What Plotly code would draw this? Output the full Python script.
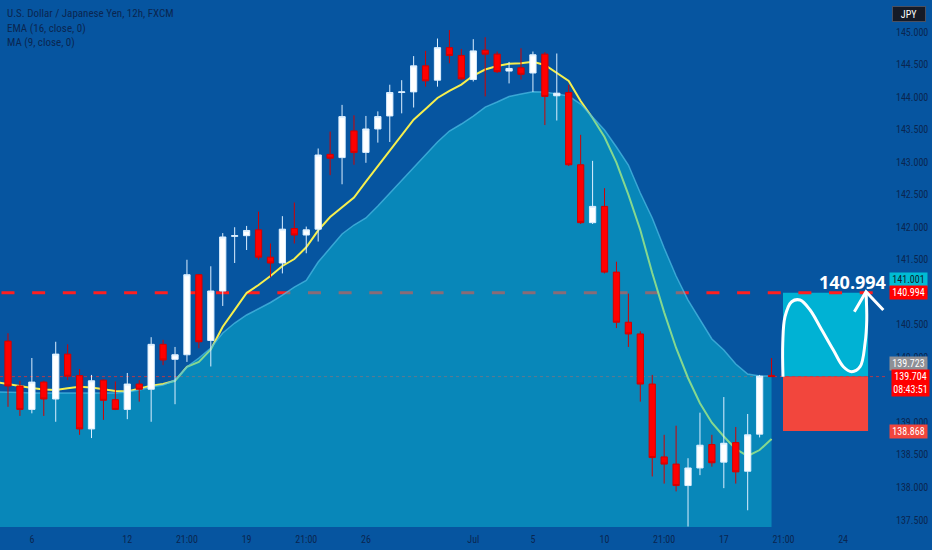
import plotly.graph_objects as go

# ---------------- data ----------------
candle_idx = list(range(65))
open_ = [140.25, 139.56, 139.20, 139.62, 139.36, 140.05, 139.72, 138.90, 139.65, 139.35,
         139.20, 139.59, 139.51, 140.20, 139.97, 140.04, 141.27, 140.26, 141.02, 141.86,
         141.87, 141.96, 141.54, 141.45, 141.98, 141.88, 141.97, 143.12, 143.07, 143.48,
         143.15, 143.51, 143.71, 144.07, 144.08, 144.48, 144.26, 144.76, 144.64, 144.27,
         144.72, 144.66, 144.40, 144.45, 144.37, 144.66, 144.02, 144.07, 142.96, 142.07,
         142.32, 141.31, 140.54, 140.36, 139.59, 138.47, 138.36, 138.03, 138.30, 138.66,
         138.39, 138.69, 138.25, 138.82, 139.723]
high = [140.37, 139.64, 139.99, 139.64, 140.24, 140.20, 139.82, 139.73, 139.66, 139.63,
        139.76, 139.65, 140.31, 140.27, 140.16, 141.50, 141.28, 141.40, 141.91, 142.00,
        142.02, 142.24, 141.75, 142.17, 142.38, 142.01, 143.21, 143.47, 143.88, 143.72,
        143.71, 143.78, 144.19, 144.26, 144.63, 144.71, 144.90, 145.03, 144.74, 144.89,
        144.92, 144.70, 144.54, 144.75, 144.70, 144.69, 144.67, 144.19, 143.42, 143.02,
        142.60, 141.47, 140.98, 140.40, 139.73, 138.81, 138.95, 138.45, 139.15, 138.81,
        139.39, 138.93, 139.13, 139.73, 139.99]
low = [139.24, 139.10, 139.14, 139.10, 139.01, 139.65, 138.81, 138.76, 139.04, 139.19,
       139.05, 139.32, 139.01, 139.88, 139.28, 139.93, 140.14, 139.86, 140.79, 141.45,
       141.65, 141.50, 141.23, 141.29, 141.75, 141.60, 141.78, 142.80, 142.66, 142.96,
       142.99, 143.30, 143.31, 143.75, 143.84, 144.16, 144.16, 144.52, 144.26, 144.24,
       144.01, 144.37, 144.21, 144.27, 144.08, 143.57, 143.64, 142.94, 142.05, 142.05,
       141.29, 140.45, 140.16, 139.32, 138.17, 138.06, 137.94, 137.40, 138.19, 138.32,
       137.99, 138.06, 137.65, 138.77, 139.70]
close = [139.56, 139.20, 139.62, 139.36, 140.05, 139.71, 138.90, 139.64, 139.34, 139.20,
         139.59, 139.51, 140.20, 139.96, 140.04, 141.27, 140.24, 141.02, 141.85, 141.87,
         141.95, 141.54, 141.45, 141.97, 141.88, 141.96, 143.11, 143.06, 143.70, 143.15,
         143.51, 143.70, 144.07, 144.08, 144.48, 144.25, 144.76, 144.64, 144.28, 144.71,
         144.66, 144.39, 144.44, 144.35, 144.65, 144.01, 144.06, 142.96, 142.07, 142.32,
         141.31, 140.54, 140.36, 139.59, 138.46, 138.36, 138.03, 138.30, 138.65, 138.38,
         138.68, 138.24, 138.81, 139.71, 139.704]

line_idx = list(range(-1, 65))
ema16 = [139.62, 139.590, 139.549, 139.529, 139.506, 139.498, 139.524, 139.549, 139.537, 139.506,
         139.483, 139.475, 139.514, 139.564, 139.590, 139.640, 139.856, 139.929, 140.121, 140.471,
         140.730, 140.989, 141.112, 141.250, 141.404, 141.511, 141.691, 141.952, 142.157, 142.311,
         142.457, 142.701, 142.936, 143.171, 143.399, 143.652, 143.817, 143.986, 144.096, 144.193,
         144.331, 144.424, 144.477, 144.511, 144.519, 144.544, 144.493, 144.370, 144.247, 143.940,
         143.678, 143.386, 142.994, 142.500, 141.957, 141.296, 140.692, 140.144, 139.683, 139.294,
         138.996, 138.784, 138.592, 138.484, 138.576, 138.745]
ma_area = [139.467, 139.467, 139.460, 139.452, 139.452, 139.452, 139.452, 139.452, 139.452, 139.452,
           139.452, 139.467, 139.498, 139.544, 139.575, 139.652, 139.856, 139.990, 140.144, 140.374,
           140.528, 140.651, 140.743, 140.843, 140.958, 141.081, 141.181, 141.465, 141.680, 141.896,
           142.034, 142.142, 142.326, 142.526, 142.726, 142.926, 143.110, 143.310, 143.479, 143.586,
           143.709, 143.847, 143.924, 144.009, 144.047, 144.083, 144.078, 144.047, 144.016, 143.893,
           143.694, 143.494, 143.233, 142.956, 142.526, 142.142, 141.680, 141.250, 140.881, 140.574,
           140.282, 140.113, 139.898, 139.744, 139.713, 139.713]

tick_pos = [2, 10, 15, 20, 25, 30, 39, 44, 50, 55, 60, 65, 70]
tick_text = ["6", "12", "21:00", "19", "21:00", "26", "Jul", "5", "10", "21:00", "17", "21:00", "24"]

target_price = 140.994
last_price = 139.704
stop_price = 138.868
alert_price = 141.001
prev_price = 139.723

box_x = [64.96, 72.09]
curve_x = [64.96, 64.94, 65.13, 65.69, 66.39, 67.23, 68.06, 69.18, 70.02, 70.72, 71.42, 71.84, 71.98, 71.92]
curve_y = [139.703, 140.22, 140.625, 140.855, 140.881, 140.728, 140.471, 140.113, 139.856, 139.78,
           139.856, 140.22, 140.574, 140.989]
arrow_x = [70.94, 71.92, 73.37]
arrow_y = [140.70, 141.009, 140.728]

X_RANGE = [-0.67, 73.51]
Y_RANGE = [137.393, 145.492]

# ---------------- styling ----------------
BG = "rgb(6,85,160)"
TXT = "#0a2650"
NARROW = "Liberation Sans Narrow, Roboto Condensed, Liberation Sans, Arial"

fig = go.Figure()

# base layer (under the translucent area)
fig.add_trace(go.Scatter(x=[X_RANGE[0], X_RANGE[1] + 2], y=[last_price, last_price], mode="lines",
                         line=dict(color="rgba(235,50,50,0.75)", width=1, dash="dot"),
                         hoverinfo="skip", xaxis="x", yaxis="y"))
fig.add_trace(go.Scatter(x=[-0.545, X_RANGE[1] + 2], y=[target_price, target_price], mode="lines",
                         line=dict(color="#ff1f1f", width=3, dash="13px,17.65px"),
                         hoverinfo="skip", xaxis="x", yaxis="y"))
fig.add_trace(go.Scatter(x=line_idx, y=ema16, mode="lines",
                         line=dict(color="#f6ef4e", width=2), hoverinfo="skip",
                         xaxis="x", yaxis="y"))
fig.add_trace(go.Scatter(x=line_idx, y=ma_area, mode="lines", fill="tozeroy",
                         fillcolor="rgba(10,190,214,0.48)",
                         line=dict(color="rgba(80,190,230,0.7)", width=1.5),
                         hoverinfo="skip", xaxis="x", yaxis="y"))

# overlay layer: candles and drawing
fig.add_trace(go.Candlestick(x=candle_idx, open=open_, high=high, low=low, close=close,
                             increasing=dict(line=dict(color="#dcefff", width=1), fillcolor="#ffffff"),
                             decreasing=dict(line=dict(color="#d40000", width=1), fillcolor="#ff0000"),
                             whiskerwidth=0, xaxis="x2", yaxis="y2", hoverinfo="skip"))
fig.add_trace(go.Scatter(x=curve_x, y=curve_y, mode="lines",
                         line=dict(color="white", width=3, shape="spline", smoothing=1.0),
                         hoverinfo="skip", xaxis="x2", yaxis="y2"))
fig.add_trace(go.Scatter(x=arrow_x, y=arrow_y, mode="lines",
                         line=dict(color="white", width=3),
                         hoverinfo="skip", xaxis="x2", yaxis="y2"))

shapes = [
    dict(type="rect", xref="x", yref="y", x0=box_x[0], x1=box_x[1], y0=last_price, y1=target_price,
         fillcolor="#00b2d4", line=dict(width=0), layer="below"),
    dict(type="rect", xref="x", yref="y", x0=box_x[0], x1=box_x[1], y0=stop_price, y1=last_price,
         fillcolor="#f2463d", line=dict(width=0), layer="below"),
]

def badge(price, text, bg, fg, yshift=0, height=13, xshift=4):
    return dict(xref="paper", x=1, xanchor="left", xshift=xshift, yref="y", y=price,
                yanchor="middle", yshift=yshift, text=text, showarrow=False, bgcolor=bg,
                font=dict(color=fg, size=10, family=NARROW), width=37, height=height,
                borderpad=0, align="center")

annotations = [
    dict(xref="paper", x=0, xanchor="left", xshift=5, yref="paper", y=1, yanchor="middle", yshift=-13,
         text="U.S. Dollar / Japanese Yen, 12h, FXCM", showarrow=False,
         font=dict(color=TXT, size=11, family=NARROW)),
    dict(xref="paper", x=0, xanchor="left", xshift=5, yref="paper", y=1, yanchor="middle", yshift=-28,
         text="EMA (16, close, 0)", showarrow=False, font=dict(color=TXT, size=11, family=NARROW)),
    dict(xref="paper", x=0, xanchor="left", xshift=5, yref="paper", y=1, yanchor="middle", yshift=-42,
         text="MA (9, close, 0)", showarrow=False, font=dict(color=TXT, size=11, family=NARROW)),
    dict(xref="paper", x=1, xanchor="right", xshift=3, yref="y", y=141.158, yanchor="middle",
         text="<b>140.994</b>", showarrow=False,
         font=dict(color="white", size=18, family="Open Sans")),
    badge(alert_price, "141.001", "#00bcd4", "#0d1b2a", yshift=12.7),
    badge(target_price, "140.994", "#ff0000", "white"),
    badge(prev_price, "139.723", "#8e9096", "white", yshift=12),
    badge(last_price, "139.704<br>08:43:51", "#ff0000", "white", yshift=-6.5, height=26, xshift=6),
    badge(stop_price, "138.868", "#f2463d", "white"),
    dict(xref="paper", x=1, xanchor="left", xshift=7, yref="paper", y=1, yanchor="top", yshift=-6,
         text="JPY", showarrow=False, bgcolor="#151a26", bordercolor="#4b5060", borderwidth=1,
         font=dict(color="white", size=10, family=NARROW), width=32, height=14, borderpad=0),
]

fig.update_layout(
    width=932, height=550, margin=dict(l=0, r=47, t=0, b=23),
    paper_bgcolor=BG, plot_bgcolor=BG, showlegend=False, boxgap=0.25,
    xaxis=dict(range=X_RANGE, tickmode="array", tickvals=tick_pos, ticktext=tick_text,
               showgrid=False, zeroline=False, showline=False, ticks="outside", ticklen=3,
               tickcolor="rgba(0,0,0,0)",
               tickfont=dict(color=TXT, size=10, family=NARROW),
               rangeslider=dict(visible=False), fixedrange=True),
    yaxis=dict(range=Y_RANGE, side="right", tickmode="linear", tick0=137.5, dtick=0.5,
               tickformat=".3f", showgrid=False, zeroline=False, showline=False,
               ticks="outside", ticklen=8, tickcolor="rgba(0,0,0,0)",
               tickfont=dict(color=TXT, size=10, family=NARROW), fixedrange=True),
    xaxis2=dict(range=X_RANGE, overlaying="x", visible=False, rangeslider=dict(visible=False),
                fixedrange=True),
    yaxis2=dict(range=Y_RANGE, overlaying="y", visible=False, fixedrange=True),
    shapes=shapes, annotations=annotations,
)

fig.write_html("out.html", config={"displayModeBar": False},
               post_script="document.body.style.margin='0';document.body.style.background='rgb(6,85,160)';")
